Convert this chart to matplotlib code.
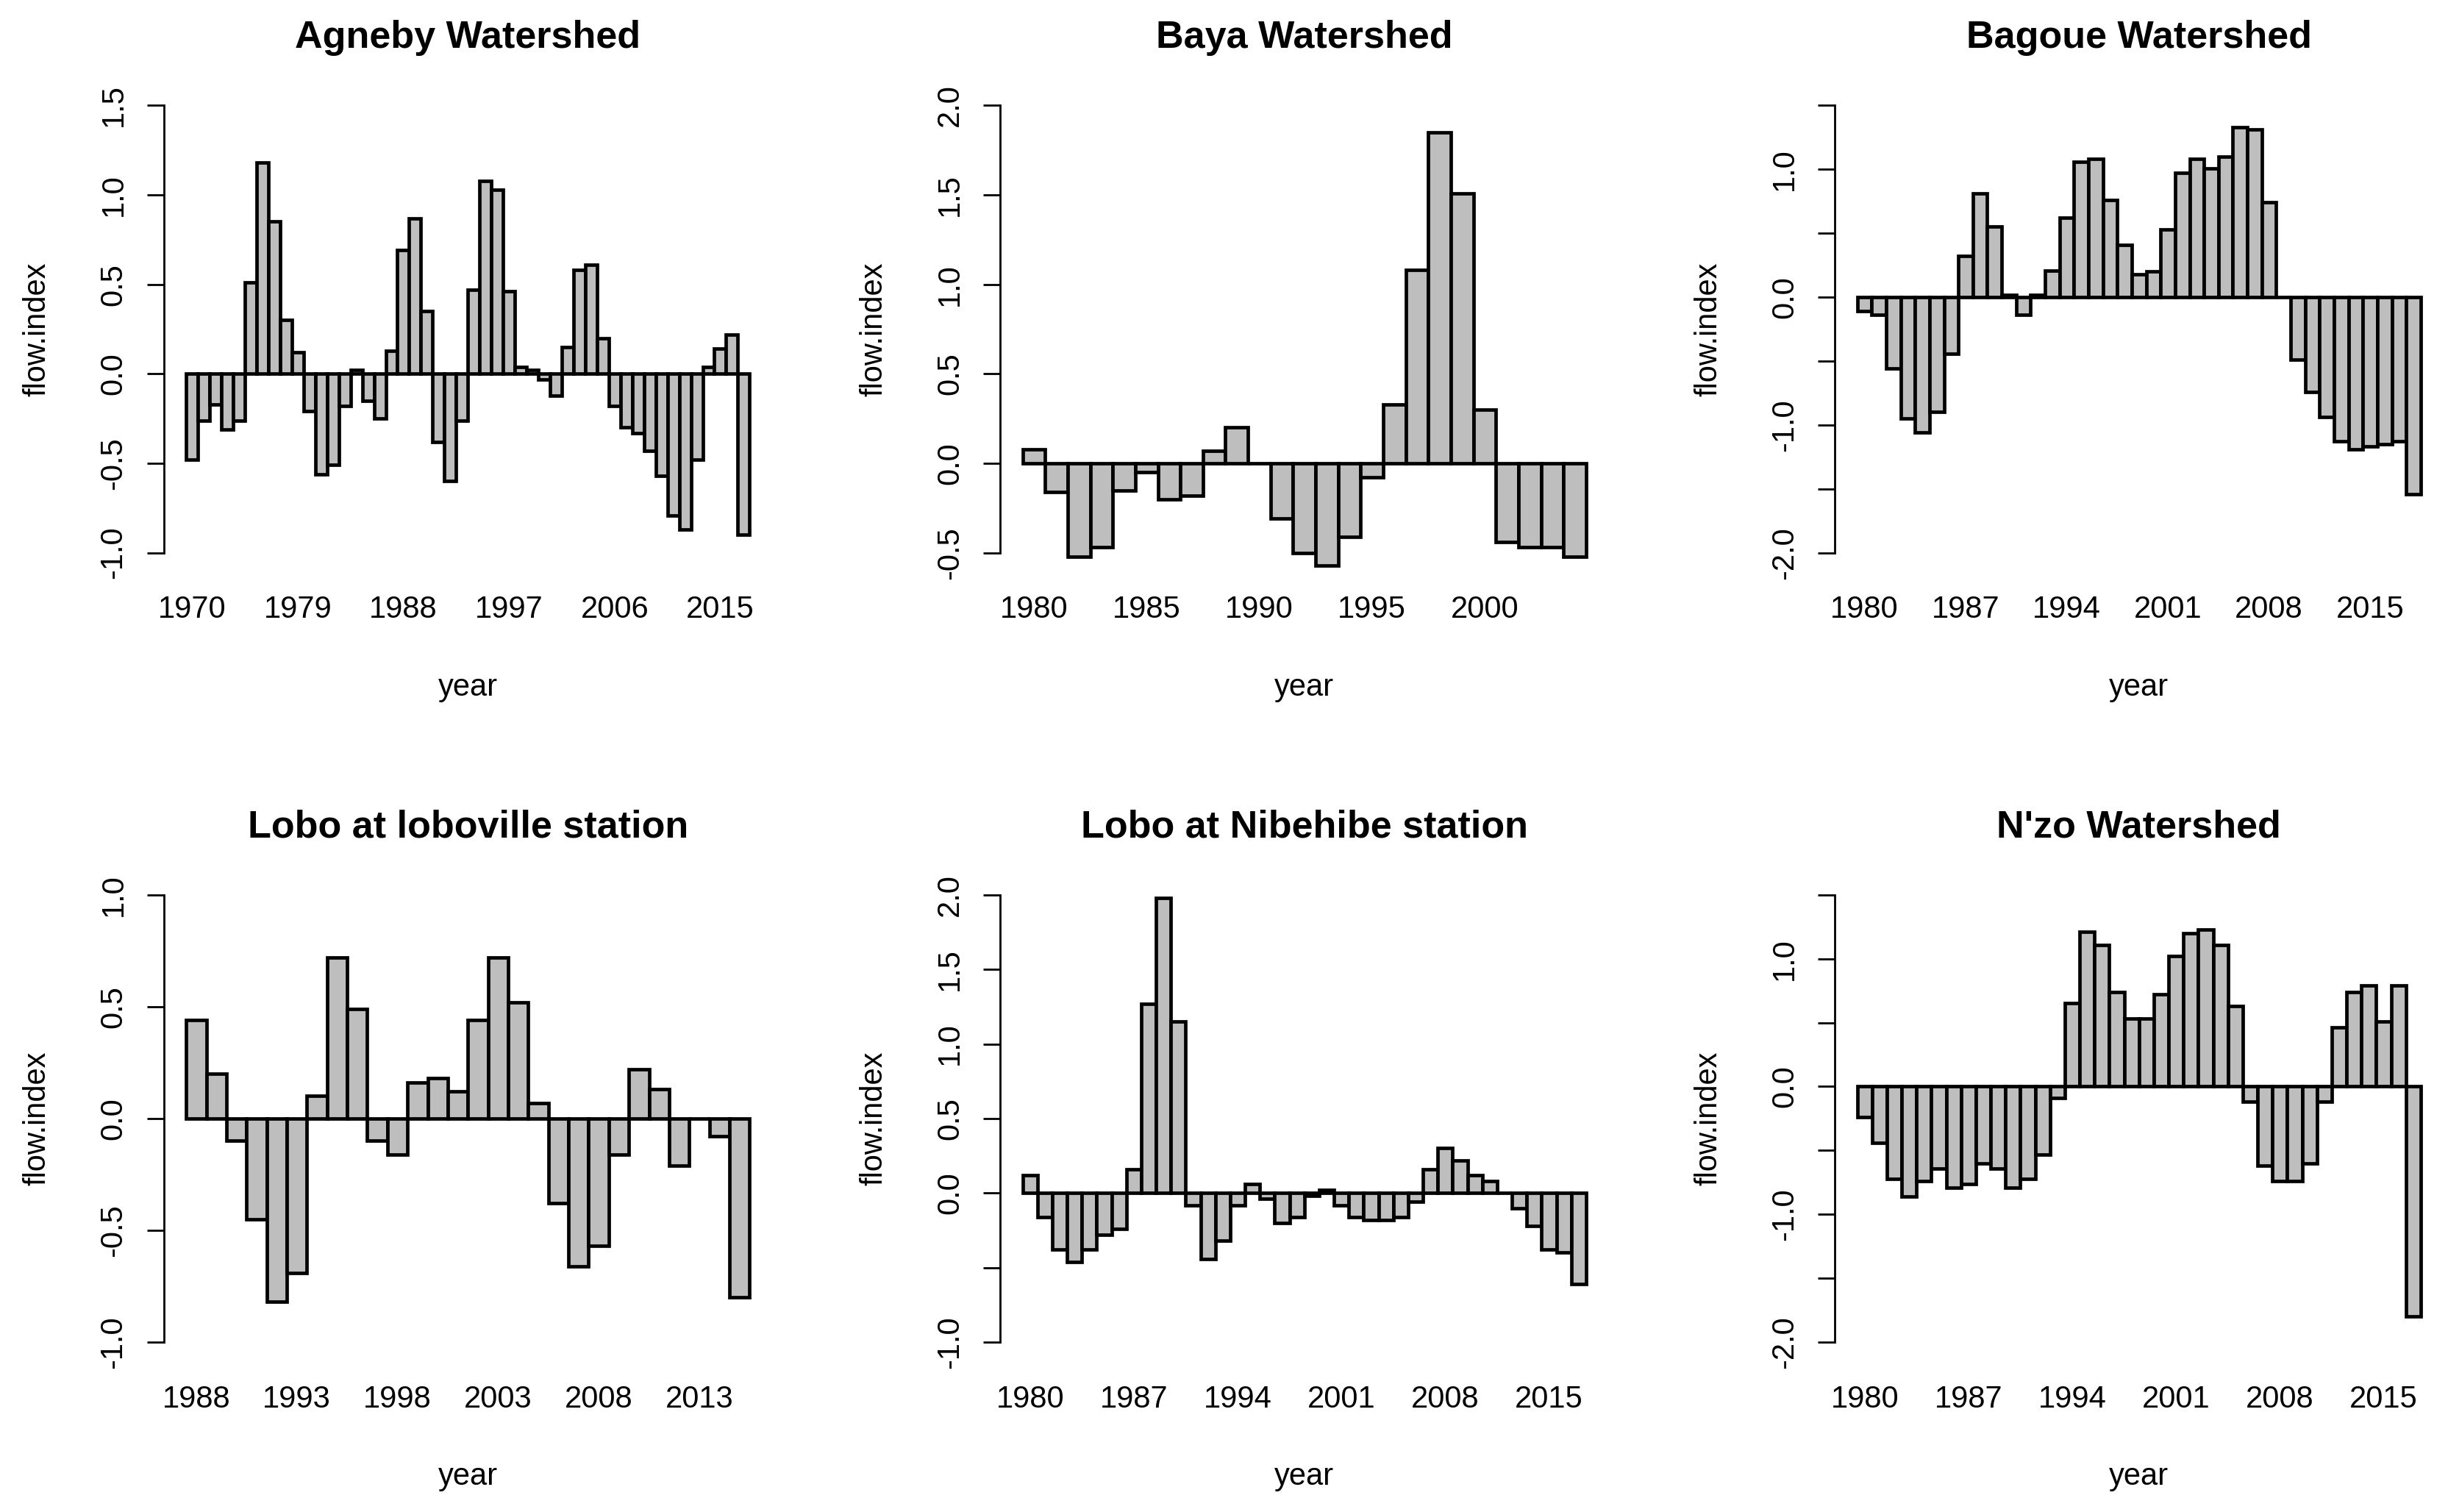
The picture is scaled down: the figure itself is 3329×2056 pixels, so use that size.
import numpy as np
import matplotlib
matplotlib.use("Agg")
import matplotlib.pyplot as plt

plt.rcParams['font.family'] = ['Liberation Sans', 'DejaVu Sans']

# ---------------- data ----------------
titles = ["Agneby Watershed", "Baya Watershed", "Bagoue Watershed",
          "Lobo at loboville station", "Lobo at Nibehibe station", "N'zo Watershed"]

agneby_start = 1970
agneby = [-0.48, -0.26, -0.17, -0.31, -0.26, 0.51, 1.18, 0.85, 0.30, 0.12,
          -0.21, -0.56, -0.51, -0.18, 0.02, -0.15, -0.25, 0.13, 0.69, 0.87,
          0.35, -0.38, -0.60, -0.26, 0.47, 1.08, 1.03, 0.46, 0.04, 0.02,
          -0.03, -0.12, 0.15, 0.58, 0.61, 0.20, -0.18, -0.30, -0.33, -0.43,
          -0.57, -0.79, -0.87, -0.48, 0.04, 0.14, 0.22, -0.90]

baya_start = 1980
baya = [0.08, -0.16, -0.52, -0.47, -0.15, -0.05, -0.20, -0.18, 0.07, 0.20,
        0.0, -0.31, -0.50, -0.57, -0.41, -0.08, 0.33, 1.08, 1.85, 1.51,
        0.30, -0.44, -0.47, -0.47, -0.52]

bagoue_start = 1980
bagoue = [-0.11, -0.14, -0.56, -0.95, -1.06, -0.90, -0.44, 0.32, 0.81, 0.55,
          0.02, -0.14, 0.02, 0.21, 0.62, 1.06, 1.08, 0.76, 0.41, 0.18,
          0.20, 0.53, 0.97, 1.08, 1.01, 1.10, 1.33, 1.31, 0.74, 0.0,
          -0.49, -0.74, -0.94, -1.13, -1.19, -1.17, -1.15, -1.13, -1.54]

loboville_start = 1988
loboville = [0.44, 0.20, -0.10, -0.45, -0.82, -0.69, 0.10, 0.72, 0.49, -0.10,
             -0.16, 0.16, 0.18, 0.12, 0.44, 0.72, 0.52, 0.07, -0.38, -0.66,
             -0.57, -0.16, 0.22, 0.13, -0.21, 0.0, -0.08, -0.80]

nibehibe_start = 1980
nibehibe = [0.12, -0.16, -0.38, -0.46, -0.38, -0.28, -0.24, 0.16, 1.27, 1.98,
            1.15, -0.08, -0.44, -0.32, -0.08, 0.06, -0.04, -0.20, -0.16, -0.02,
            0.02, -0.08, -0.16, -0.18, -0.18, -0.16, -0.06, 0.16, 0.30, 0.22,
            0.12, 0.08, 0.0, -0.10, -0.22, -0.38, -0.40, -0.61]

nzo_start = 1980
nzo = [-0.24, -0.44, -0.72, -0.86, -0.74, -0.64, -0.79, -0.76, -0.60, -0.64,
       -0.79, -0.72, -0.53, -0.09, 0.65, 1.21, 1.11, 0.74, 0.53, 0.53,
       0.72, 1.02, 1.20, 1.23, 1.11, 0.63, -0.12, -0.62, -0.74, -0.74,
       -0.60, -0.12, 0.46, 0.74, 0.79, 0.51, 0.79, -1.80]

series = [agneby, baya, bagoue, loboville, nibehibe, nzo]
starts = [agneby_start, baya_start, bagoue_start, loboville_start, nibehibe_start, nzo_start]
ylims = [(-1.0, 1.5), (-0.5, 2.0), (-2.0, 1.5), (-1.0, 1.0), (-1.0, 2.0), (-2.0, 1.5)]
label_steps = [9, 5, 7, 5, 7, 7]
hidden_ylabels = [[], [], [1.5, 0.5, -0.5, -1.5], [], [-0.5], [1.5, 0.5, -0.5, -1.5]]

# ---------------- layout ----------------
W, H = 3330, 2056
fig = plt.figure(figsize=(W / 100, H / 100), dpi=100)
col_left = [222.5, 1360, 2495]
ax_w = 827.5
row_top = [119, 1192.4]
ax_h = 657.0

LW = 2.0
BAR_LW = 3.4
FS = 30
TFS = 37.5

for k in range(6):
    r, c = divmod(k, 3)
    left = col_left[c] / W
    bottom = 1 - (row_top[r] + ax_h) / H
    ax = fig.add_axes([left, bottom, ax_w / W, ax_h / H])
    vals = np.array(series[k])
    n = len(vals)
    years = np.arange(starts[k], starts[k] + n)
    x = np.arange(n)
    ax.bar(x, vals, width=1.0, align='edge', color='#BEBEBE',
           edgecolor='black', linewidth=BAR_LW, zorder=2)
    ax.set_xlim(-0.04 * n, n * 1.04)
    lo, hi = ylims[k]
    rng = hi - lo
    ax.set_ylim(lo - 0.04 * rng, hi + 0.04 * rng)

    for s in ['top', 'right', 'bottom']:
        ax.spines[s].set_visible(False)
    ax.spines['left'].set_bounds(lo, hi)
    ax.spines['left'].set_linewidth(LW)

    yt = np.arange(lo, hi + 1e-9, 0.5)
    ylabs = ["" if any(abs(v - h) < 1e-9 for h in hidden_ylabels[k]) else f"{v:.1f}" for v in yt]
    ax.set_yticks(yt)
    ax.set_yticklabels(ylabs, rotation=90, va='center', fontsize=FS)
    ax.tick_params(axis='y', length=16.5, width=LW, pad=18, colors='black')

    step = label_steps[k]
    idx = np.arange(0, n, step)
    ax.set_xticks(x[idx] + 0.5)
    ax.set_xticklabels([str(y) for y in years[idx]], fontsize=FS)
    ax.tick_params(axis='x', length=0, pad=24)

    ax.text(0.5, 1 + 54 / ax_h, titles[k], transform=ax.transAxes, ha='center',
            va='baseline', fontsize=TFS, fontweight='bold')
    ax.text(0.5, -(170 / ax_h), 'year', transform=ax.transAxes, ha='center',
            va='baseline', fontsize=FS)
    ax.text(-(172 / ax_w), 0.5, 'flow.index', transform=ax.transAxes, ha='center',
            va='center', rotation=90, fontsize=FS)

fig.savefig('out.png', dpi=100, facecolor='white')
